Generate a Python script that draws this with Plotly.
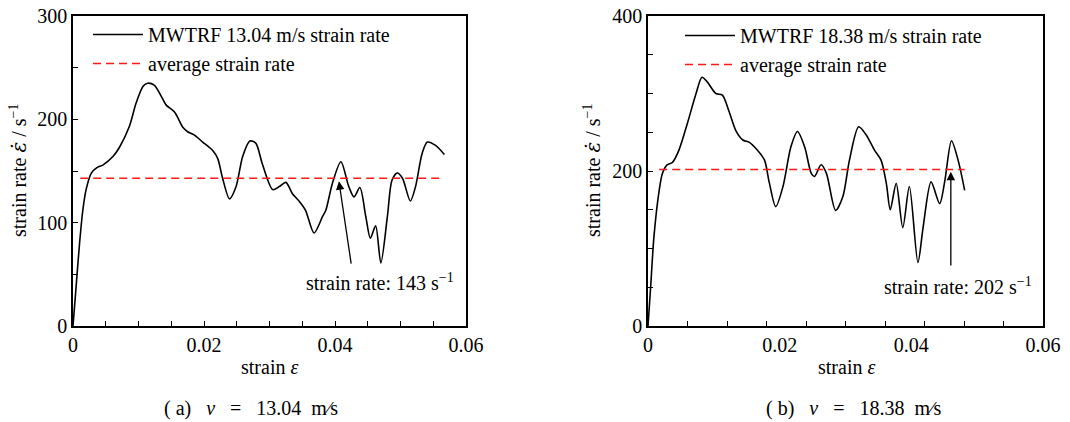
import plotly.graph_objects as go

# ---------------- data ----------------
strain_a = [0, 0.0004, 0.001, 0.0015, 0.002, 0.0028, 0.0036, 0.0046, 0.0061, 0.0071,
            0.0086, 0.0096, 0.0107, 0.0114, 0.0124, 0.0135, 0.0142, 0.0155, 0.0168, 0.0175,
            0.0185, 0.0198, 0.0213, 0.0221, 0.0228, 0.0239, 0.0249, 0.0259, 0.027, 0.0279,
            0.0289, 0.0305, 0.0315, 0.0325, 0.0335, 0.0345, 0.0355, 0.0368, 0.0381, 0.0386,
            0.0396, 0.0409, 0.0421, 0.0429, 0.0438, 0.0447, 0.0454, 0.0462, 0.047, 0.048,
            0.0487, 0.0495, 0.0503, 0.0515, 0.0523, 0.0533, 0.0541, 0.0553, 0.0567]
rate_a = [0, 32, 80, 112, 132, 148, 153, 156, 164, 173,
          193, 215, 232, 235, 233, 222, 214, 207, 192, 188,
          185, 178, 170, 162, 144, 123, 135, 164, 179, 177,
          157, 132, 135, 139, 128, 121, 112, 90, 106, 112,
          138, 159, 135, 125, 134, 106, 85, 97, 61, 106,
          141, 148, 143, 121, 135, 167, 178, 175, 166]

strain_b = [0, 0.0004, 0.0009, 0.0017, 0.0022, 0.0029, 0.0037, 0.0047, 0.006, 0.0073,
            0.0082, 0.009, 0.0103, 0.0113, 0.0123, 0.0134, 0.0144, 0.0154, 0.0166, 0.0177,
            0.0184, 0.0194, 0.0205, 0.0217, 0.0227, 0.0238, 0.0248, 0.0253, 0.0263, 0.0271,
            0.0285, 0.0296, 0.0306, 0.032, 0.0331, 0.0344, 0.0354, 0.0362, 0.0368, 0.0377,
            0.0387, 0.0397, 0.041, 0.0418, 0.043, 0.0443, 0.0451, 0.0461, 0.0471, 0.0481]
rate_b = [0, 50, 115, 175, 197, 208, 211, 227, 262, 300,
          321, 315, 300, 298, 277, 251, 240, 237, 227, 214,
          186, 154, 180, 231, 251, 231, 197, 193, 208, 197,
          149, 167, 214, 257, 247, 227, 214, 184, 150, 184,
          127, 180, 82, 128, 186, 158, 188, 239, 214, 175]

avg_a = 143
avg_b = 202
avg_span_a = [0.0011, 0.0566]
avg_span_b = [0.0017, 0.0481]

name_a = "MWTRF 13.04 m/s strain rate"
name_b = "MWTRF 18.38 m/s strain rate"
name_avg = "average strain rate"
caption_a = "(&nbsp;a)&nbsp;&nbsp;&nbsp;<i>v</i>&nbsp;&nbsp;&nbsp;=&nbsp;&nbsp;&nbsp;13.04&nbsp;&nbsp;m∕s"
caption_b = "(&nbsp;b)&nbsp;&nbsp;&nbsp;<i>v</i>&nbsp;&nbsp;&nbsp;=&nbsp;&nbsp;&nbsp;18.38&nbsp;&nbsp;m∕s"
note_a = "strain rate: 143 s<sup>−1</sup>"
note_b = "strain rate: 202 s<sup>−1</sup>"
# arrow head / tail (strain, rate) and label anchor
arrow_a = dict(head=(0.0406, 140), tail=(0.0425, 59), label=(0.0352, 43))
arrow_b = dict(head=(0.0460, 199), tail=(0.0460, 76), label=(0.0355, 52))

FONT = "Liberation Serif, Times New Roman, serif"
W, H = 1070, 422

fig = go.Figure()

fig.add_trace(go.Scatter(x=strain_a, y=rate_a, mode="lines", name=name_a,
                         line=dict(color="black", width=1.6, shape="spline", smoothing=0.8),
                         xaxis="x", yaxis="y", legend="legend"))
fig.add_trace(go.Scatter(x=avg_span_a, y=[avg_a, avg_a], mode="lines", name=name_avg,
                         line=dict(color="#ff1a1a", width=1.6, dash="8px,5px"),
                         xaxis="x", yaxis="y", legend="legend"))
fig.add_trace(go.Scatter(x=strain_b, y=rate_b, mode="lines", name=name_b,
                         line=dict(color="black", width=1.6, shape="spline", smoothing=0.8),
                         xaxis="x2", yaxis="y2", legend="legend2"))
fig.add_trace(go.Scatter(x=avg_span_b, y=[avg_b, avg_b], mode="lines", name=name_avg,
                         line=dict(color="#ff1a1a", width=1.6, dash="8px,5px"),
                         xaxis="x2", yaxis="y2", legend="legend2"))

ydom = [(H - 326) / H, (H - 16) / H]
dom_a = [73 / W, 466 / W]
dom_b = [648 / W, 1043 / W]

axis_common = dict(showline=True, linecolor="black", linewidth=1.5, mirror=True,
                   showgrid=False, zeroline=False, ticks="inside", ticklen=5,
                   tickwidth=1.2, tickcolor="black",
                   tickfont=dict(family=FONT, size=20, color="black"),
                   automargin=False)

ytitle = ("strain rate <span style=\"font-family:DejaVu Serif\"><i>ε̇</i></span>"
          " / s<sup>−1</sup>")
xtitle = "strain <i>ε</i>"

fig.update_layout(
    width=W, height=H,
    margin=dict(l=0, r=0, t=0, b=0),
    paper_bgcolor="white", plot_bgcolor="white",
    font=dict(family=FONT, size=20, color="black"),
    xaxis=dict(axis_common, domain=dom_a, range=[0, 0.06], tickmode="linear", tick0=0, dtick=0.02,
               minor=dict(dtick=0.005, tick0=0, ticks="inside", ticklen=5, tickcolor="black"),
               anchor="y"),
    yaxis=dict(axis_common, domain=ydom, range=[0, 300], tickmode="linear", tick0=0, dtick=100,
               minor=dict(dtick=50, tick0=0, ticks="inside", ticklen=5, tickcolor="black"),
               anchor="x"),
    xaxis2=dict(axis_common, domain=dom_b, range=[0, 0.06], tickmode="linear", tick0=0, dtick=0.02,
                ticks="",
                minor=dict(dtick=0.006, tick0=0, ticks="inside", ticklen=5, tickcolor="black"),
                anchor="y2"),
    yaxis2=dict(axis_common, domain=ydom, range=[0, 400], tickmode="linear", tick0=0, dtick=200,
                minor=dict(dtick=50, tick0=0, ticks="inside", ticklen=5, tickcolor="black"),
                anchor="x2"),
    legend=dict(x=88 / W, y=(H - 15) / H, xanchor="left", yanchor="top",
                bgcolor="rgba(0,0,0,0)", font=dict(family=FONT, size=20),
                itemwidth=50, tracegroupgap=0),
    legend2=dict(x=680 / W, y=(H - 16) / H, xanchor="left", yanchor="top",
                 bgcolor="rgba(0,0,0,0)", font=dict(family=FONT, size=20),
                 itemwidth=50, tracegroupgap=0),
    showlegend=True,
)

for arr, xr, yr, txt in [(arrow_a, "x", "y", note_a), (arrow_b, "x2", "y2", note_b)]:
    fig.add_annotation(x=arr["head"][0], y=arr["head"][1], ax=arr["tail"][0], ay=arr["tail"][1],
                       xref=xr, yref=yr, axref=xr, ayref=yr, text="", showarrow=True,
                       arrowhead=2, arrowsize=1.3, arrowwidth=1.3, arrowcolor="black")
    fig.add_annotation(x=arr["label"][0], y=arr["label"][1], xref=xr, yref=yr, text=txt,
                       showarrow=False, xanchor="left", yanchor="middle",
                       font=dict(family=FONT, size=20, color="black"))

# axis titles (placed as paper annotations for exact positioning)
for cx in (18, 592):
    fig.add_annotation(x=cx / W, y=(H - 171) / H, xref="paper", yref="paper", text=ytitle,
                       textangle=-90, showarrow=False, xanchor="center", yanchor="middle",
                       font=dict(family=FONT, size=20, color="black"))
for cx in (270, 846):
    fig.add_annotation(x=cx / W, y=(H - 367) / H, xref="paper", yref="paper", text=xtitle,
                       showarrow=False, xanchor="center", yanchor="middle",
                       font=dict(family=FONT, size=20, color="black"))

for cx, txt in [(251, caption_a), (853, caption_b)]:
    fig.add_annotation(x=cx / W, y=(H - 408) / H, xref="paper", yref="paper", text=txt,
                       showarrow=False, xanchor="center", yanchor="middle",
                       font=dict(family=FONT, size=20, color="black"))

fig.write_html("out.html", config={"displayModeBar": False},
               post_script="document.body.style.margin='0px';")
